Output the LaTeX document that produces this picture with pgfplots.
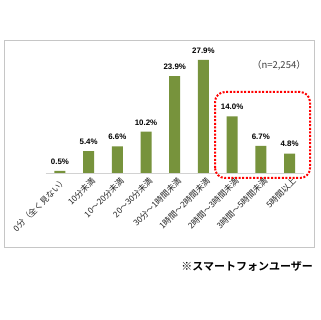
\documentclass[border=0pt]{standalone}
\usepackage{pgfplots}
\pgfplotsset{compat=1.18}
\usepackage{fontspec}
\setmainfont{Noto Sans CJK JP}
\newfontfamily\arialb{Liberation Sans}[BoldFont=* Bold]
\newfontfamily\jpbold{Noto Sans CJK JP Bold}
\definecolor{barg}{HTML}{77933C}
\begin{document}
\begin{tikzpicture}[x=1pt,y=1pt]
\fill[white] (0,0) rectangle (320,320);
\draw[gray!45, line width=0.8pt] (4.3,72.3) rectangle (314.3,279.3);
\begin{axis}[
  at={(45.6pt,147pt)}, anchor=south west,
  scale only axis, width=258.3pt, height=121.5pt,
  xmin=-0.5, xmax=8.5, ymin=0, ymax=30,
  hide y axis,
  axis x line*=bottom,
  x axis line style={gray!35, line width=0.6pt, -},
  xtick={0,...,8}, major tick length=0pt,
  xticklabels={0分（全く見ない）,10分未満,10～20分未満,20～30分未満,30分～1時間未満,1時間～2時間未満,2時間～3時間未満,3時間～5時間未満,5時間以上},
  xticklabel style={rotate=45, anchor=north east, inner sep=1pt, font=\fontsize{8.3}{9}\selectfont, text=black!85, yshift=-3pt},
  clip=false,
]
\addplot[ybar, bar width=11pt, fill=barg, draw=none,
  nodes near coords={\pgfmathprintnumber[fixed,fixed zerofill,precision=1,assume math mode=true]{\pgfplotspointmeta}\%},
  nodes near coords style={font=\arialb\bfseries\fontsize{7.9}{9}\selectfont, text=black, yshift=3pt},
] coordinates {(0,0.5) (1,5.4) (2,6.6) (3,10.2) (4,23.9) (5,27.9) (6,14.0) (7,6.7) (8,4.8)};
\end{axis}
\node[anchor=east, font=\fontsize{9.5}{11}\selectfont, text=black!75, inner sep=0pt] at (306,255) {（n=2,254）};
\draw[red, line width=2pt, dash pattern=on 2pt off 1.6pt, rounded corners=10pt] (215,142) rectangle (310,228);
\node[anchor=east, font=\jpbold\fontsize{11}{13}\selectfont, inner sep=0pt] at (313,54) {※スマートフォンユーザー};
\pgfresetboundingbox
\useasboundingbox (0,0) rectangle (320,320);
\end{tikzpicture}
\end{document}
